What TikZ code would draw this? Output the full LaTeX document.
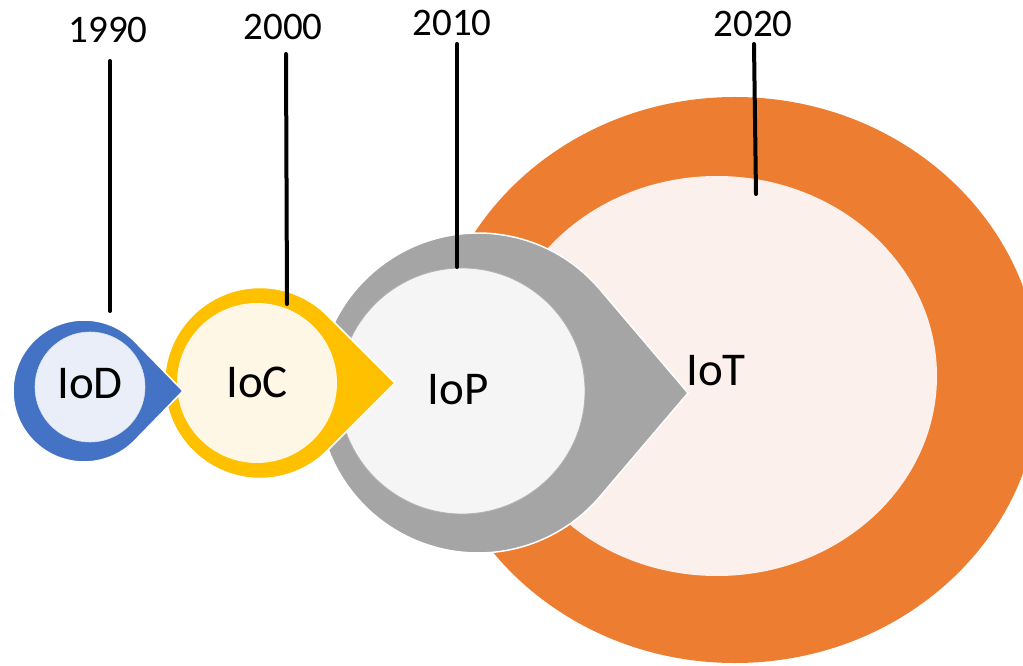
\documentclass[tikz,border=0pt]{standalone}
\usepackage{fontspec}
\setmainfont{Carlito}
\usetikzlibrary{calc}
\definecolor{cblue}{HTML}{4472C4}
\definecolor{cbluel}{HTML}{E9EEF8}
\definecolor{cyel}{HTML}{FFC000}
\definecolor{cyell}{HTML}{FFF7E5}
\definecolor{cgray}{HTML}{A5A5A5}
\definecolor{cgrayl}{HTML}{F5F5F5}
\definecolor{corg}{HTML}{ED7D31}
\definecolor{corgl}{HTML}{FBF0EB}
\newcommand\tdrop[5]{%
  \pgfmathsetmacro\tdang{acos(#3/(#4-#1))}%
  \fill[#5, draw=white, line width=1.5pt] (#4,#2) -- ($(#1,#2)+(\tdang:#3)$)
    arc[start angle=\tdang, end angle={360-\tdang}, radius=#3] -- cycle;}
\tikzset{
  year/.style={font=\fontsize{39}{41}\selectfont, inner sep=0pt},
  lbl/.style={font=\fontsize{47}{50}\selectfont, inner sep=0pt},
  tick/.style={line width=4pt, black, line cap=round}
}
\begin{document}
\begin{tikzpicture}[x=1pt,y=1pt]
\useasboundingbox (0,0) rectangle (1023,665);
% IoT
\fill[corg] (735,285) ellipse[x radius=305, y radius=283];
\fill[corgl] (717,289) ellipse[x radius=220, y radius=200];
% IoP
\tdrop{478}{272}{160}{688}{cgray}
\fill[cgrayl, draw=gray!60, line width=0.8pt] (462,274) circle[radius=123];
% IoC
\tdrop{260}{282}{95.5}{395}{cyel}
\fill[cyell] (257,282) circle[radius=80];
% IoD
\tdrop{84}{274}{71}{183}{cblue}
\fill[cbluel, draw=white!80!cblue, line width=0.6pt] (90,278) circle[radius=55];
% labels
\node[lbl] (iod) at (90,281) {IoD};
\node[lbl] (ioc) at (257,283) {IoC};
\node[lbl] (iop) at (458,275) {IoP};
\node[lbl] (iot) at (716,294) {IoT};
% years
\node[year] (y1990) at (108,635) {1990};
\node[year] (y2000) at (283,638) {2000};
\node[year] (y2010) at (452,642) {2010};
\node[year] (y2020) at (753,641) {2020};
\coordinate (a1) at (110,604); \coordinate (b1) at (110,354);
\coordinate (a2) at (286,611); \coordinate (b2) at (287,361);
\coordinate (a3) at (457,621); \coordinate (b3) at (457,398);
\coordinate (a4) at (754,621); \coordinate (b4) at (756,471);
\draw[tick] (a1) -- (b1);
\draw[tick] (a2) -- (b2);
\draw[tick] (a3) -- (b3);
\draw[tick] (a4) -- (b4);
\end{tikzpicture}
\end{document}
